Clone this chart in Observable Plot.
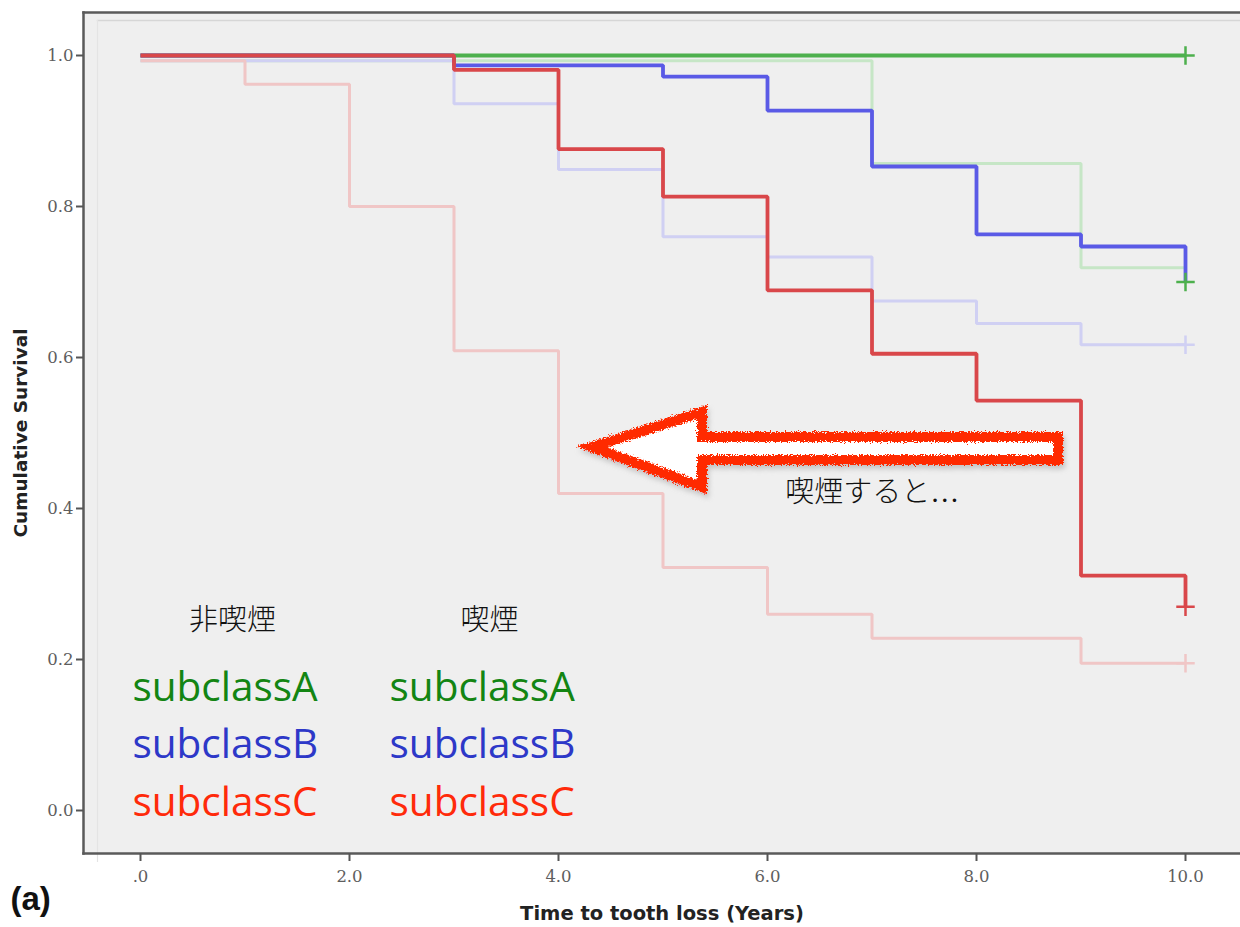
<!DOCTYPE html>
<html><head><meta charset="utf-8">
<script src="https://cdn.jsdelivr.net/npm/d3@7"></script>
<script src="https://cdn.jsdelivr.net/npm/@observablehq/plot@0.6"></script>
<style>body{margin:0;background:#fff;} #chart{width:1240px;height:927px;}</style>
</head><body><div id="chart"></div>
<script>
// ---- data (Kaplan–Meier step curves) ----
const xTicks = [0, 2, 4, 6, 8, 10];
const yTicks = [0, 0.2, 0.4, 0.6, 0.8, 1.0];

// non-smokers (bold curves)
const nonA_t = [0, 10];
const nonA_s = [1.0, 1.0];
const nonB_t = [0, 3, 5, 6, 7, 8, 9, 10];
const nonB_s = [1.0, 0.987, 0.972, 0.927, 0.853, 0.763, 0.747, 0.700];
const nonC_t = [0, 3, 4, 5, 6, 7, 8, 9, 10];
const nonC_s = [1.0, 0.981, 0.876, 0.813, 0.689, 0.605, 0.543, 0.311, 0.270];

// smokers (faint curves)
const smkA_t = [0, 7, 9, 10];
const smkA_s = [0.993, 0.857, 0.719, 0.719];
const smkB_t = [0, 3, 4, 5, 6, 7, 8, 9, 10];
const smkB_s = [0.993, 0.936, 0.849, 0.760, 0.733, 0.675, 0.645, 0.617, 0.617];
const smkC_t = [0, 1, 2, 3, 4, 5, 6, 7, 9, 10];
const smkC_s = [0.993, 0.962, 0.800, 0.609, 0.420, 0.322, 0.260, 0.228, 0.195, 0.195];

// censor marks at end of follow-up
const censorT = [10, 10, 10, 10, 10];
const censorS = [1.0, 0.700, 0.270, 0.617, 0.195];
const censorColorKey = ["greenBold", "greenBold", "redBold", "blueFaint", "redFaint"];

const legendHeaders = ["非喫煙", "喫煙"];
const legendItems = ["subclassA", "subclassB", "subclassC"];
const annotationText = "喫煙すると…";

// arrow outline (data coordinates)
const arrowT = [4.325, 5.378, 5.378, 8.785, 8.785, 5.378, 5.378];
const arrowS = [0.4808, 0.527, 0.494, 0.494, 0.4636, 0.4636, 0.4278];

// ---- styles ----
const colors = {
  greenBold: "#4db04d", blueBold: "#5a5ae6", redBold: "#d9474a",
  greenFaint: "#c6e6c6", blueFaint: "#d0d0f3", redFaint: "#f0c6c6",
  greenText: "#138513", blueText: "#2d38c8", redText: "#ff2a0a"
};

const mk = (t, s) => t.map((d, i) => ({t: d, s: s[i]}));
const series = [
  {data: mk(smkA_t, smkA_s), c: colors.greenFaint, w: 3},
  {data: mk(smkB_t, smkB_s), c: colors.blueFaint, w: 3},
  {data: mk(smkC_t, smkC_s), c: colors.redFaint, w: 3},
  {data: mk(nonA_t, nonA_s), c: colors.greenBold, w: 3.8},
  {data: mk(nonB_t, nonB_s), c: colors.blueBold, w: 3.8},
  {data: mk(nonC_t, nonC_s), c: colors.redBold, w: 3.8}
];
const censors = censorT.map((t, i) => ({t, s: censorS[i], c: colors[censorColorKey[i]]}));
const arrow = mk(arrowT, arrowS);

const colX = [-0.077, 2.383];
const headerX = [0.88, 3.34];
const rowY = [0.1616, 0.0861, 0.0093];
const itemColors = [colors.greenText, colors.blueText, colors.redText];

const plot = Plot.plot({
  width: 1240, height: 927,
  marginLeft: 83, marginTop: 12, marginRight: 0, marginBottom: 74,
  x: {domain: [0, 10], range: [140, 1185]},
  y: {domain: [0, 1], range: [810, 55]},
  style: {background: "transparent", overflow: "visible"},
  marks: [
    Plot.frame({fill: "#efefef", stroke: null}),
    Plot.frame({anchor: "top", stroke: "#d6d6d6", strokeWidth: 1.5, dy: 8, dx: 14}),
    Plot.frame({anchor: "left", stroke: "#e4e4e4", strokeWidth: 1.2, dx: 14, dy: 8}),
    Plot.frame({anchor: "top", stroke: "#5a5a5a", strokeWidth: 2.5}),
    Plot.frame({anchor: "left", stroke: "#5a5a5a", strokeWidth: 2.5}),
    Plot.frame({anchor: "bottom", stroke: "#5a5a5a", strokeWidth: 2.5}),
    Plot.axisY({ticks: yTicks, tickFormat: d => d.toFixed(1), tickSize: 7, tickPadding: 3, label: null,
      stroke: "#555", strokeWidth: 2, fill: "#5e5e5e", fontSize: 16.5, fontFamily: "DejaVu Serif"}),
    Plot.axisX({ticks: xTicks, tickFormat: d => d === 0 ? ".0" : d.toFixed(1), tickSize: 8, tickPadding: 9, label: null,
      stroke: "#555", strokeWidth: 2, fill: "#5e5e5e", fontSize: 16.5, fontFamily: "DejaVu Serif"}),
    ...series.map(sr => Plot.line(sr.data, {x: "t", y: "s", curve: "step-after",
      stroke: sr.c, strokeWidth: sr.w, strokeLinejoin: "miter", strokeLinecap: "butt"})),
    Plot.dot(censors, {x: "t", y: "s", symbol: "plus", r: 6, stroke: d => d.c, strokeWidth: 2.5}),
    Plot.text([annotationText], {x: 6.17, y: 0.421, text: d => d, textAnchor: "start",
      fontSize: 29, fill: "#111", fontFamily: "'Liberation Serif', 'Noto Sans CJK JP'", fontWeight: 300}),
    Plot.text(legendHeaders, {x: (d, i) => headerX[i], y: 0.252, text: d => d,
      fontSize: 29, fill: "#111", fontFamily: "Noto Sans CJK JP", fontWeight: 300}),
    ...colX.map(cx => Plot.text(legendItems, {x: cx, y: (d, i) => rowY[i], text: d => d,
      textAnchor: "start", fontSize: 40.5, fill: (d, i) => itemColors[i], fontFamily: "Open Sans"})),
    Plot.text(["Cumulative Survival"], {frameAnchor: "left", textAnchor: "middle", dx: -62, rotate: -90,
      fontSize: 18.5, fontWeight: "bold", fill: "#222", fontFamily: "DejaVu Sans"}),
    Plot.text(["Time to tooth loss (Years)"], {frameAnchor: "bottom", textAnchor: "middle", dy: 66,
      fontSize: 19.5, fontWeight: "bold", fill: "#222", fontFamily: "DejaVu Sans"}),
    Plot.text(["(a)"], {frameAnchor: "bottom-left", dx: -73, dy: 56, textAnchor: "start",
      fontSize: 33, fontWeight: "bold", fill: "#111", fontFamily: "Liberation Sans"})
  ]
});

// hand-drawn arrow, positioned through the plot's scales
const svg = d3.select(plot);
const sx = plot.scale("x"), sy = plot.scale("y");
const defs = svg.insert("defs", ":first-child");
const f = defs.append("filter").attr("id", "rough").attr("filterUnits", "userSpaceOnUse")
  .attr("x", 0).attr("y", 0).attr("width", 1240).attr("height", 927);
f.append("feTurbulence").attr("type", "fractalNoise").attr("baseFrequency", "0.7").attr("numOctaves", 2).attr("result", "noise");
f.append("feDisplacementMap").attr("in", "SourceGraphic").attr("in2", "noise").attr("scale", 7)
  .attr("xChannelSelector", "R").attr("yChannelSelector", "G").attr("result", "disp");
f.append("feGaussianBlur").attr("in", "disp").attr("stdDeviation", 2.5).attr("result", "blur");
f.append("feOffset").attr("in", "blur").attr("dx", 2).attr("dy", 4).attr("result", "off");
f.append("feColorMatrix").attr("in", "off").attr("type", "matrix")
  .attr("values", "0 0 0 0 0.3  0 0 0 0 0.3  0 0 0 0 0.3  0 0 0 0.45 0").attr("result", "shadow");
const m = f.append("feMerge");
m.append("feMergeNode").attr("in", "shadow");
m.append("feMergeNode").attr("in", "disp");
const pathGen = d3.line().x(d => sx.apply(d.t)).y(d => sy.apply(d.s)).curve(d3.curveLinearClosed);
svg.append("path").attr("d", pathGen(arrow))
  .attr("fill", "#ffffff").attr("stroke", "#ff2a00").attr("stroke-width", 10)
  .attr("stroke-linejoin", "miter").attr("filter", "url(#rough)");

document.getElementById("chart").appendChild(plot);
</script>
</body></html>
